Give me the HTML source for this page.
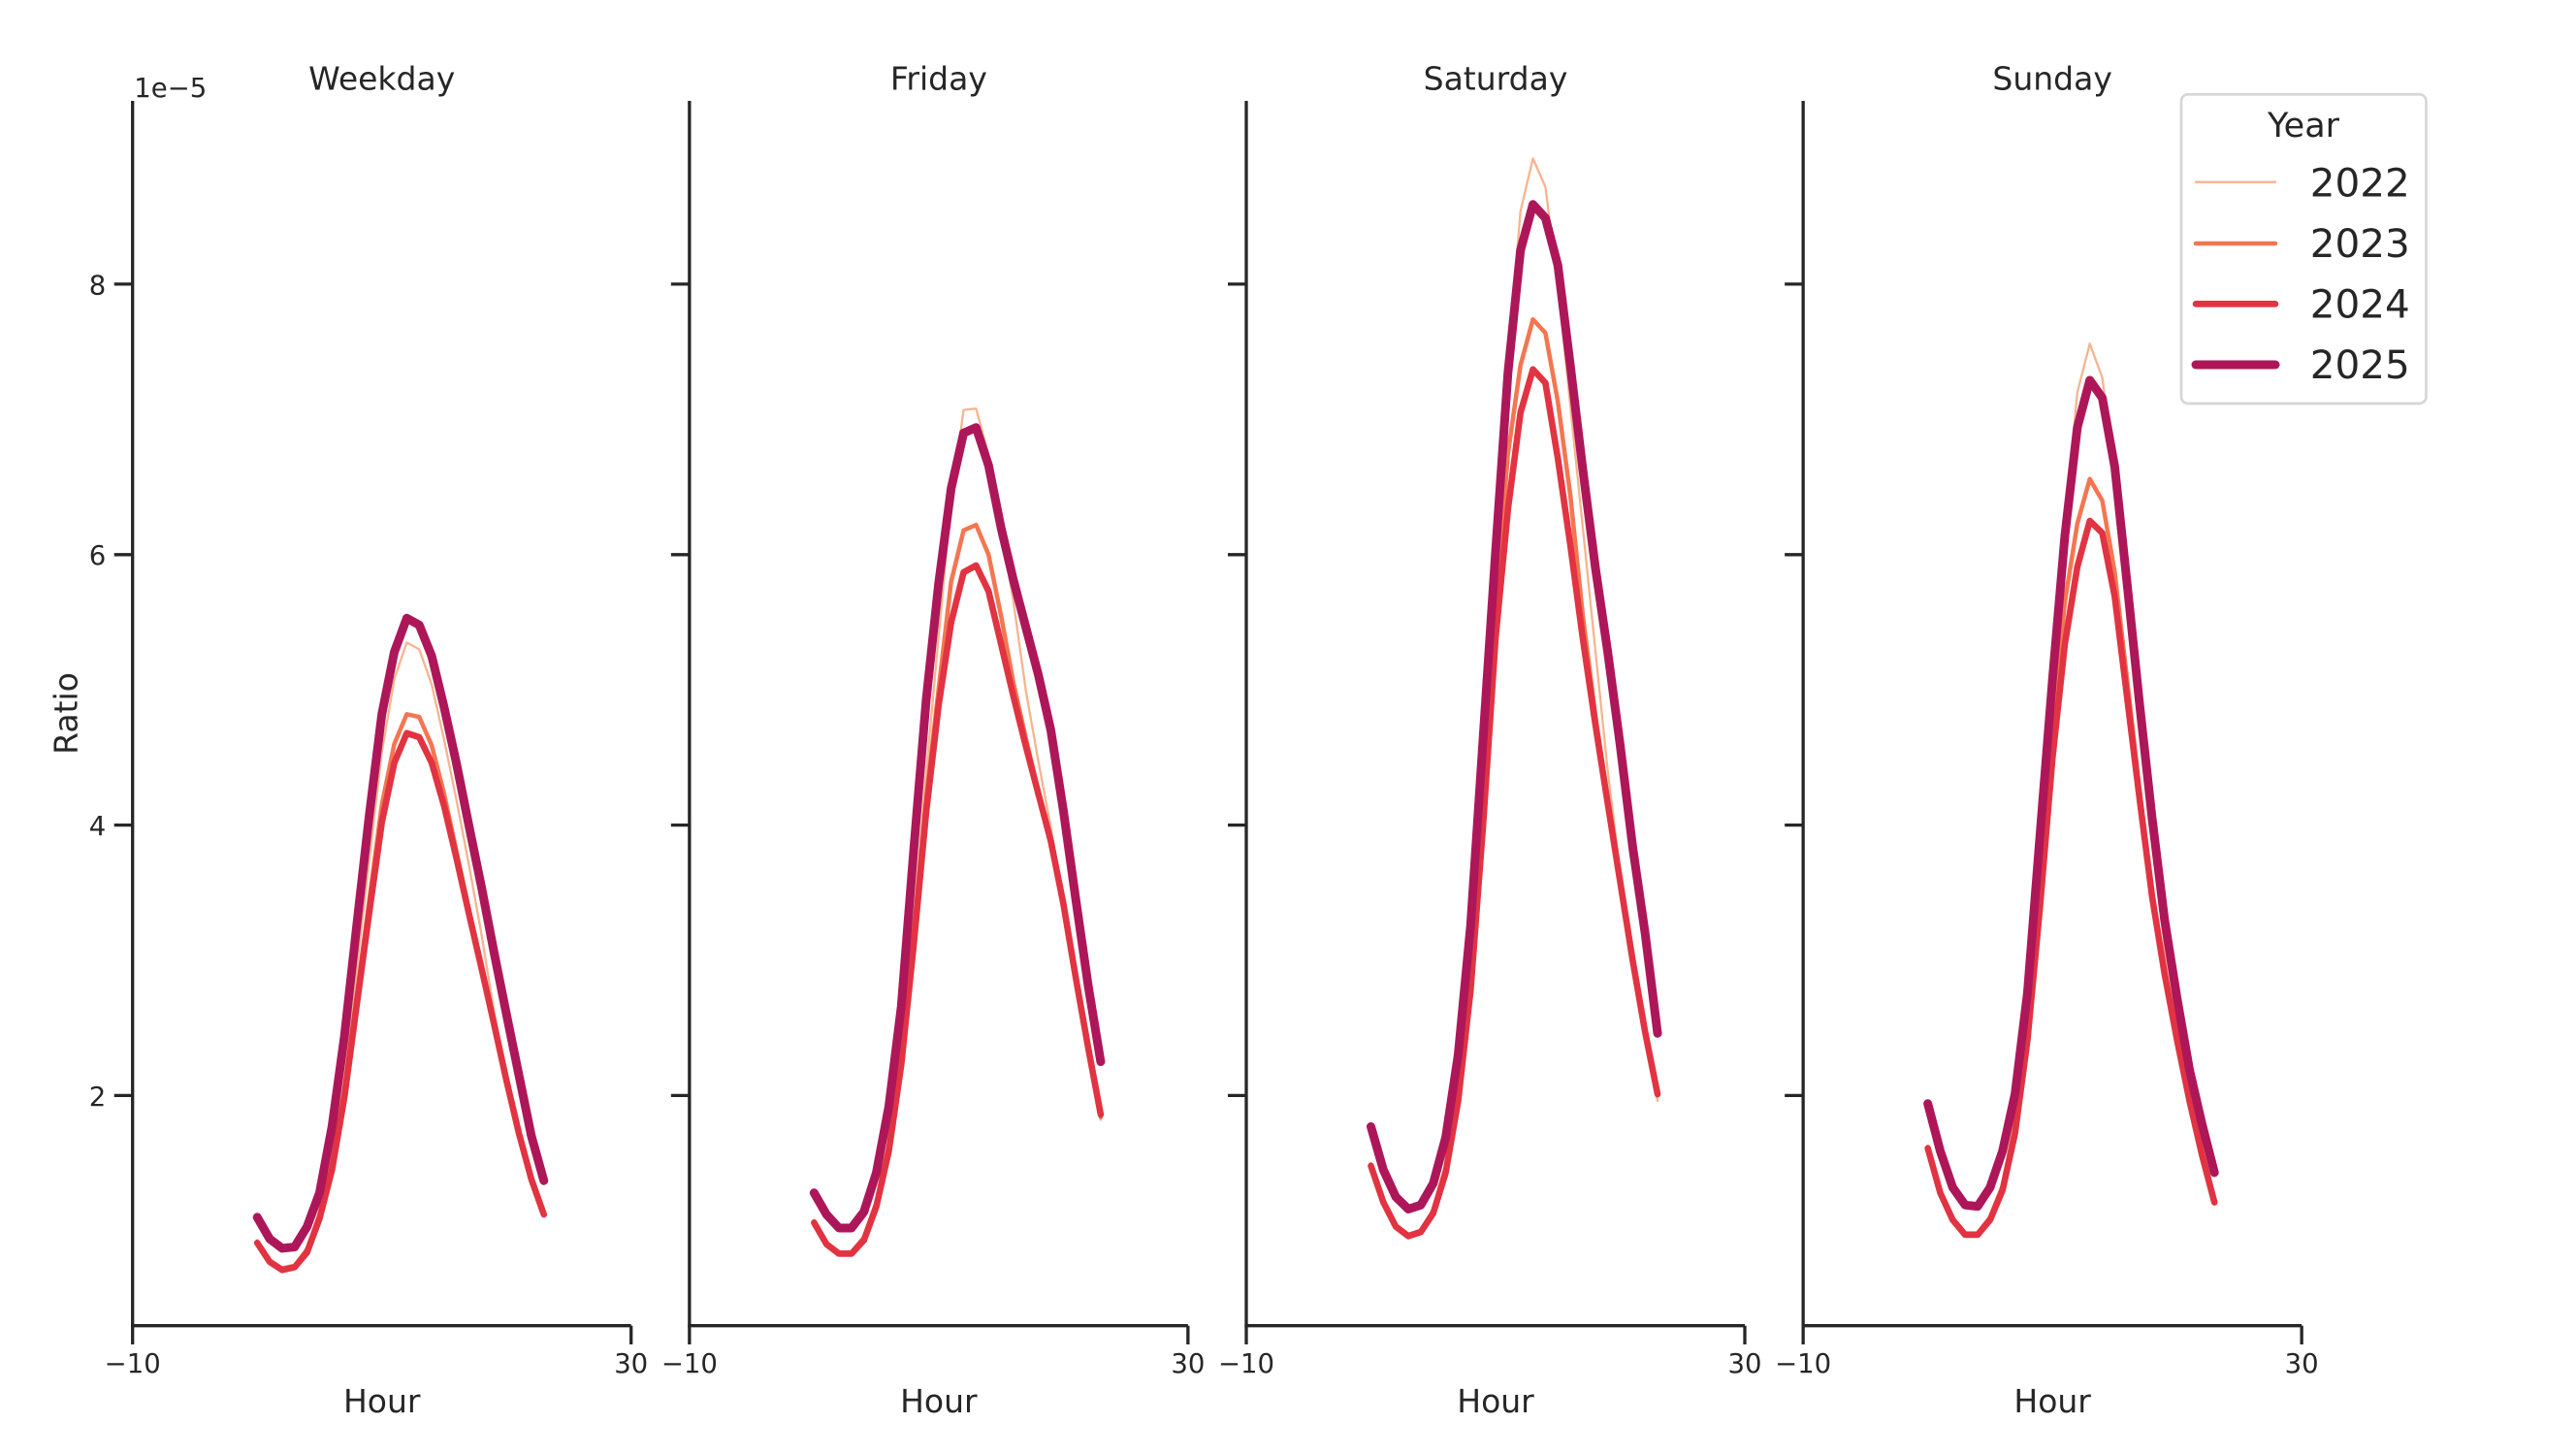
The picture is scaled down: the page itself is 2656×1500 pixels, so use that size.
<!DOCTYPE html>
<html>
<head>
<meta charset="utf-8">
<style>
  html, body { margin: 0; padding: 0; background: #ffffff; }
  svg { display: block; }
  text { font-family: "DejaVu Sans", "Liberation Sans", sans-serif; fill: #262626; }
  .ax line { stroke: #262626; stroke-width: 3.3; }
  .tk { font-size: 27.5px; }
  .lb { font-size: 33px; }
  polyline { fill: none; stroke-linejoin: round; stroke-linecap: round; vector-effect: non-scaling-stroke; }
  .s22 { stroke: #f6b48f; stroke-width: 2.3; }
  .s23 { stroke: #f37651; stroke-width: 4.5; }
  .s24 { stroke: #e13342; stroke-width: 6.6; }
  .s25 { stroke: #ad1759; stroke-width: 9; }
</style>
</head>
<body>
<svg width="2656" height="1500" viewBox="0 0 2656 1500" xmlns="http://www.w3.org/2000/svg">
  <rect x="0" y="0" width="2656" height="1500" fill="#ffffff"/>

  <!-- ===== Panel 1: Weekday ===== -->
  <g class="ax">
    <line x1="136.7" y1="104" x2="136.7" y2="1386"/>
    <line x1="135" y1="1366.7" x2="650.7" y2="1366.7"/>
    <line x1="650.7" y1="1366.7" x2="650.7" y2="1386"/>
    <line x1="117.7" y1="292.9" x2="136.7" y2="292.9"/>
    <line x1="117.7" y1="571.8" x2="136.7" y2="571.8"/>
    <line x1="117.7" y1="850.6" x2="136.7" y2="850.6"/>
    <line x1="117.7" y1="1129.4" x2="136.7" y2="1129.4"/>
  </g>
  <text class="tk" x="109.3" y="303.3" text-anchor="end">8</text>
  <text class="tk" x="109.3" y="582.2" text-anchor="end">6</text>
  <text class="tk" x="109.3" y="861" text-anchor="end">4</text>
  <text class="tk" x="109.3" y="1139.8" text-anchor="end">2</text>
  <text class="tk" x="138.3" y="100">1e−5</text>
  <text class="tk" x="136.7" y="1415" text-anchor="middle">−10</text>
  <text class="tk" x="650.7" y="1415" text-anchor="middle">30</text>
  <text class="lb" x="393.7" y="92.7" text-anchor="middle">Weekday</text>
  <text class="lb" x="393.7" y="1456" text-anchor="middle">Hour</text>
  <text class="lb" x="0" y="0" text-anchor="middle" transform="translate(79.5 735.5) rotate(-90)">Ratio</text>
  <g transform="matrix(12.85 0 0 -139.4 265.2 1408.2)">
    <polyline class="s22" points="0,0.93 1,0.79 2,0.73 3,0.75 4,0.88 5,1.15 6,1.6 7,2.2 8,2.95 9,3.75 10,4.54 11,5.08 12,5.35 13,5.30 14,5.04 15,4.63 16,4.18 17,3.70 18,3.19 19,2.62 20,2.14 21,1.74 22,1.39 23,1.13"/>
    <polyline class="s23" points="0,0.92 1,0.78 2,0.72 3,0.74 4,0.86 5,1.12 6,1.50 7,2.05 8,2.75 9,3.45 10,4.15 11,4.60 12,4.82 13,4.80 14,4.59 15,4.23 16,3.80 17,3.37 18,2.95 19,2.54 20,2.12 21,1.73 22,1.39 23,1.13"/>
    <polyline class="s24" points="0,0.91 1,0.77 2,0.71 3,0.73 4,0.84 5,1.09 6,1.45 7,1.99 8,2.68 9,3.36 10,4.02 11,4.46 12,4.68 13,4.65 14,4.46 15,4.14 16,3.75 17,3.34 18,2.94 19,2.53 20,2.11 21,1.72 22,1.38 23,1.12"/>
    <polyline class="s25" points="0,1.10 1,0.94 2,0.87 3,0.88 4,1.03 5,1.28 6,1.77 7,2.44 8,3.27 9,4.08 10,4.82 11,5.28 12,5.53 13,5.48 14,5.25 15,4.87 16,4.45 17,3.99 18,3.54 19,3.06 20,2.60 21,2.15 22,1.70 23,1.37"/>
  </g>

  <!-- ===== Panel 2: Friday ===== -->
  <g class="ax">
    <line x1="710.85" y1="104" x2="710.85" y2="1386"/>
    <line x1="709.2" y1="1366.7" x2="1224.85" y2="1366.7"/>
    <line x1="1224.85" y1="1366.7" x2="1224.85" y2="1386"/>
    <line x1="691.85" y1="292.9" x2="710.85" y2="292.9"/>
    <line x1="691.85" y1="571.8" x2="710.85" y2="571.8"/>
    <line x1="691.85" y1="850.6" x2="710.85" y2="850.6"/>
    <line x1="691.85" y1="1129.4" x2="710.85" y2="1129.4"/>
  </g>
  <text class="tk" x="710.85" y="1415" text-anchor="middle">−10</text>
  <text class="tk" x="1224.85" y="1415" text-anchor="middle">30</text>
  <text class="lb" x="967.85" y="92.7" text-anchor="middle">Friday</text>
  <text class="lb" x="967.85" y="1456" text-anchor="middle">Hour</text>
  <g transform="matrix(12.85 0 0 -139.4 839.35 1408.2)">
    <polyline class="s22" points="0,1.07 1,0.91 2,0.84 3,0.84 4,0.95 5,1.21 6,1.66 7,2.35 8,3.3 9,4.4 10,5.4 11,6.4 12,7.07 13,7.08 14,6.74 15,6.2 16,5.65 17,4.99 18,4.47 19,3.98 20,3.44 21,2.88 22,2.35 23,1.82"/>
    <polyline class="s23" points="0,1.07 1,0.91 2,0.84 3,0.84 4,0.95 5,1.21 6,1.64 7,2.30 8,3.22 9,4.2 10,5.01 11,5.80 12,6.18 13,6.22 14,6.00 15,5.55 16,5.05 17,4.64 18,4.25 19,3.89 20,3.43 21,2.88 22,2.35 23,1.84"/>
    <polyline class="s24" points="0,1.06 1,0.90 2,0.83 3,0.83 4,0.93 5,1.18 6,1.59 7,2.23 8,3.12 9,4.10 10,4.89 11,5.50 12,5.87 13,5.92 14,5.73 15,5.34 16,4.95 17,4.58 18,4.23 19,3.88 20,3.42 21,2.87 22,2.35 23,1.86"/>
    <polyline class="s25" points="0,1.28 1,1.12 2,1.02 3,1.02 4,1.14 5,1.43 6,1.92 7,2.66 8,3.82 9,4.93 10,5.79 11,6.49 12,6.90 13,6.94 14,6.66 15,6.20 16,5.81 17,5.46 18,5.11 19,4.70 20,4.11 21,3.45 22,2.81 23,2.25"/>
  </g>

  <!-- ===== Panel 3: Saturday ===== -->
  <g class="ax">
    <line x1="1285" y1="104" x2="1285" y2="1386"/>
    <line x1="1283.35" y1="1366.7" x2="1799" y2="1366.7"/>
    <line x1="1799" y1="1366.7" x2="1799" y2="1386"/>
    <line x1="1266" y1="292.9" x2="1285" y2="292.9"/>
    <line x1="1266" y1="571.8" x2="1285" y2="571.8"/>
    <line x1="1266" y1="850.6" x2="1285" y2="850.6"/>
    <line x1="1266" y1="1129.4" x2="1285" y2="1129.4"/>
  </g>
  <text class="tk" x="1285" y="1415" text-anchor="middle">−10</text>
  <text class="tk" x="1799" y="1415" text-anchor="middle">30</text>
  <text class="lb" x="1542" y="92.7" text-anchor="middle">Saturday</text>
  <text class="lb" x="1542" y="1456" text-anchor="middle">Hour</text>
  <g transform="matrix(12.85 0 0 -139.4 1413.5 1408.2)">
    <polyline class="s22" points="0,1.49 1,1.22 2,1.04 3,0.97 4,1.0 5,1.15 6,1.5 7,2.1 8,3.1 9,4.5 10,6.0 11,7.4 12,8.54 13,8.93 14,8.72 15,8.0 16,7.1 17,6.2 18,5.3 19,4.4 20,3.65 21,3.0 22,2.45 23,1.96"/>
    <polyline class="s23" points="0,1.49 1,1.22 2,1.04 3,0.97 4,1.0 5,1.15 6,1.47 7,2.02 8,2.88 9,4.15 10,5.6 11,6.75 12,7.40 13,7.74 14,7.64 15,7.13 16,6.44 17,5.55 18,4.82 19,4.18 20,3.59 21,3.0 22,2.47 23,2.0"/>
    <polyline class="s24" points="0,1.48 1,1.21 2,1.03 3,0.96 4,0.99 5,1.13 6,1.43 7,1.96 8,2.78 9,4.00 10,5.38 11,6.34 12,7.05 13,7.37 14,7.27 15,6.71 16,6.07 17,5.38 18,4.75 19,4.16 20,3.58 21,3.00 22,2.47 23,2.01"/>
    <polyline class="s25" points="0,1.77 1,1.45 2,1.25 3,1.16 4,1.19 5,1.35 6,1.69 7,2.30 8,3.26 9,4.64 10,6.02 11,7.35 12,8.25 13,8.59 14,8.49 15,8.14 16,7.40 17,6.63 18,5.91 19,5.28 20,4.59 21,3.84 22,3.20 23,2.46"/>
  </g>

  <!-- ===== Panel 4: Sunday ===== -->
  <g class="ax">
    <line x1="1859.15" y1="104" x2="1859.15" y2="1386"/>
    <line x1="1857.5" y1="1366.7" x2="2373.15" y2="1366.7"/>
    <line x1="2373.15" y1="1366.7" x2="2373.15" y2="1386"/>
    <line x1="1840.15" y1="292.9" x2="1859.15" y2="292.9"/>
    <line x1="1840.15" y1="571.8" x2="1859.15" y2="571.8"/>
    <line x1="1840.15" y1="850.6" x2="1859.15" y2="850.6"/>
    <line x1="1840.15" y1="1129.4" x2="1859.15" y2="1129.4"/>
  </g>
  <text class="tk" x="1859.15" y="1415" text-anchor="middle">−10</text>
  <text class="tk" x="2373.15" y="1415" text-anchor="middle">30</text>
  <text class="lb" x="2116.15" y="92.7" text-anchor="middle">Sunday</text>
  <text class="lb" x="2116.15" y="1456" text-anchor="middle">Hour</text>
  <g transform="matrix(12.85 0 0 -139.4 1987.65 1408.2)">
    <polyline class="s22" points="0,1.62 1,1.29 2,1.09 3,0.98 4,0.98 5,1.10 6,1.35 7,1.85 8,2.65 9,3.8 10,5.0 11,6.2 12,7.2 13,7.56 14,7.31 15,6.6 16,5.7 17,4.8 18,3.9 19,3.1 20,2.5 21,2.0 22,1.58 23,1.21"/>
    <polyline class="s23" points="0,1.62 1,1.29 2,1.09 3,0.98 4,0.98 5,1.10 6,1.33 7,1.77 8,2.5 9,3.55 10,4.7 11,5.65 12,6.23 13,6.56 14,6.40 15,5.87 16,5.07 17,4.25 18,3.50 19,2.92 20,2.42 21,1.97 22,1.56 23,1.21"/>
    <polyline class="s24" points="0,1.61 1,1.28 2,1.08 3,0.97 4,0.97 5,1.08 6,1.30 7,1.72 8,2.41 9,3.39 10,4.49 11,5.34 12,5.91 13,6.25 14,6.16 15,5.69 16,4.94 17,4.19 18,3.47 19,2.90 20,2.41 21,1.96 22,1.56 23,1.21"/>
    <polyline class="s25" points="0,1.94 1,1.59 2,1.32 3,1.19 4,1.18 5,1.32 6,1.59 7,2.01 8,2.76 9,3.92 10,5.07 11,6.14 12,6.94 13,7.29 14,7.16 15,6.65 16,5.78 17,4.89 18,4.05 19,3.30 20,2.72 21,2.19 22,1.79 23,1.43"/>
  </g>

  <!-- ===== Legend ===== -->
  <rect x="2249" y="97.3" width="252.5" height="318.7" rx="7" ry="7" fill="#ffffff" stroke="#d6d6d6" stroke-width="2.7"/>
  <text x="2375" y="141" text-anchor="middle" style="font-size:35px">Year</text>
  <line x1="2264" y1="187.7" x2="2346" y2="187.7" stroke="#f6b48f" stroke-width="2.3" stroke-linecap="round"/>
  <line x1="2264" y1="251" x2="2346" y2="251" stroke="#f37651" stroke-width="4.5" stroke-linecap="round"/>
  <line x1="2264" y1="313.3" x2="2346" y2="313.3" stroke="#e13342" stroke-width="6.6" stroke-linecap="round"/>
  <line x1="2264" y1="376" x2="2346" y2="376" stroke="#ad1759" stroke-width="9" stroke-linecap="round"/>
  <text x="2381.7" y="202.7" style="font-size:40.5px">2022</text>
  <text x="2381.7" y="265" style="font-size:40.5px">2023</text>
  <text x="2381.7" y="327.7" style="font-size:40.5px">2024</text>
  <text x="2381.7" y="390" style="font-size:40.5px">2025</text>
</svg>
</body>
</html>
